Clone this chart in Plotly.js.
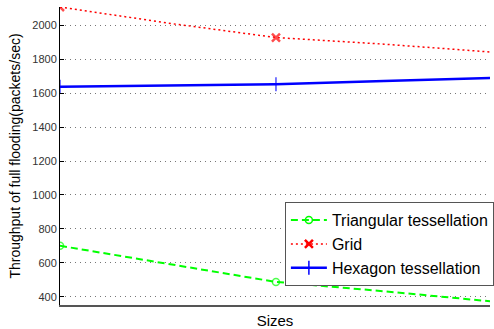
<!DOCTYPE html>
<html>
<head>
<meta charset="utf-8">
<script src="https://cdn.plot.ly/plotly-3.0.1.min.js"></script>
<style>html,body{margin:0;padding:0;background:#fff;}#chart{width:494px;height:329px;}</style>
</head>
<body>
<div id="chart"></div>
<script>
// Data (x = sample position along "Sizes", no tick labels shown)
const xPos = [1, 1.5, 2, 2.5, 3];
const triangular = [700, 594, 487, 432, 372];
const grid = [2108, 2013, 1928, 1889, 1842];
const hexagon = [1638, 1646, 1653, 1671, 1690];
const markerShown = [1, 0, 1, 0, 0];
const seriesNames = ['Triangular tessellation', 'Grid', 'Hexagon tessellation'];
const yTicks = [400, 600, 800, 1000, 1200, 1400, 1600, 1800, 2000];

const font = 'Arial, "Liberation Sans", sans-serif';
const sz = (s) => markerShown.map(m => m ? s : 0);

const styles = [
  {line: {color: '#00ff00', width: 2, dash: '7px,4px'},
   marker: {symbol: 'circle-open', size: 7, color: '#00ff00', line: {width: 1.5, color: '#00ff00'}}},
  {line: {color: '#ff0000', width: 1.5, dash: '2px,3px'},
   marker: {symbol: 'x-thin-open', size: 8, color: '#ff0000', line: {width: 2.5, color: '#ff0000'}}},
  {line: {color: '#0000ff', width: 2.5},
   marker: {symbol: 'cross-thin-open', size: 10, color: '#0000ff', line: {width: 1.5, color: '#0000ff'}}}
];
const series = [triangular, grid, hexagon];

const traces = [];
series.forEach((ys, i) => {
  traces.push({x: xPos, y: ys, name: seriesNames[i], mode: 'lines+markers', showlegend: false,
    legendgroup: 'g' + i, line: styles[i].line,
    marker: Object.assign({}, styles[i].marker, {size: sz(styles[i].marker.size)})});
});
// legend entries (no data drawn)
series.forEach((ys, i) => {
  traces.push({x: [null], y: [null], name: seriesNames[i], mode: 'lines+markers', showlegend: true,
    legendgroup: 'g' + i, line: styles[i].line, marker: styles[i].marker});
});

const layout = {
  width: 494, height: 329,
  margin: {l: 60, r: 0, t: 7, b: 24, pad: 0},
  paper_bgcolor: '#fff', plot_bgcolor: '#fff',
  font: {family: font, color: '#222'},
  showlegend: true,
  legend: {x: 0.523, y: 0.345, xanchor: 'left', yanchor: 'top', itemwidth: 36,
    bgcolor: '#fff', bordercolor: '#555', borderwidth: 1, traceorder: 'normal',
    font: {family: font, size: 16, color: '#000'}, tracegroupgap: 0},
  xaxis: {range: [1, 2.991], showticklabels: false, ticks: '', showgrid: false, zeroline: false,
    showline: true, linecolor: '#555', linewidth: 1.5,
    title: {text: 'Sizes', font: {family: font, size: 15, color: '#000'}, standoff: 10}},
  yaxis: {range: [351, 2108], tickvals: yTicks, ticktext: yTicks.map(String),
    ticks: 'inside', ticklen: 4, tickcolor: '#000', tickfont: {family: font, size: 11, color: '#333'},
    showgrid: true, gridcolor: '#777', gridwidth: 1, griddash: '1px,4px', zeroline: false,
    showline: true, linecolor: '#000', linewidth: 1,
    title: {text: 'Throughput of full flooding(packets/sec)', font: {family: font, size: 14, color: '#000'}, standoff: 8}}
};

Plotly.newPlot('chart', traces, layout, {displayModeBar: false, staticPlot: true});
</script>
</body>
</html>
